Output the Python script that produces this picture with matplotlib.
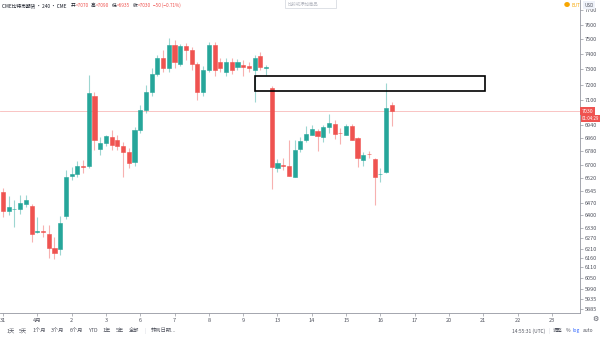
import numpy as np
import matplotlib.pyplot as plt
from matplotlib.patches import Rectangle
from matplotlib.ticker import FixedLocator, FixedFormatter, NullLocator

plt.rcParams['font.family'] = ['Noto Sans CJK SC', 'DejaVu Sans']

# 240-minute CME bitcoin futures candles
opens = [6536, 6426, 6435, 6438, 6467, 6455, 6308, 6312, 6294, 6215,
         6210, 6397, 6632, 6644, 6691, 6691, 7127, 6795, 6832, 6868,
         6850, 6813, 6777, 6716, 6912, 7037, 7152, 7269, 7374, 7308,
         7461, 7335, 7454, 7428, 7335, 7152, 7295, 7461, 7348, 7282,
         7348, 7315, 7328, 7321, 7295, 7387, 7311, 7178, 6679, 6698,
         6691, 6626, 6795, 6850, 6881, 6906, 6868, 6930, 6949, 6895,
         6881, 6937, 6862, 6728, 6766, 6734, 6642, 6655, 7070]
highs = [6560, 6513, 6490, 6519, 6519, 6467, 6391, 6345, 6345, 6277,
         6397, 6667, 6685, 6722, 6728, 7262, 7152, 6868, 6881, 6912,
         6881, 6838, 6801, 6930, 7069, 7197, 7308, 7394, 7428, 7508,
         7495, 7468, 7475, 7448, 7348, 7321, 7481, 7481, 7374, 7374,
         7374, 7368, 7361, 7348, 7394, 7414, 7328, 7191, 6734, 6740,
         6850, 6850, 6868, 6937, 6943, 6918, 6943, 7011, 6974, 6924,
         6949, 6949, 6868, 6777, 6783, 6740, 6679, 7210, 7090]
lows = [6391, 6403, 6334, 6409, 6449, 6249, 6300, 6277, 6159, 6154,
        6176, 6380, 6608, 6626, 6649, 6679, 6789, 6758, 6813, 6789,
        6789, 6626, 6679, 6691, 6893, 7018, 7127, 7256, 7282, 7282,
        7308, 7321, 7361, 7295, 7101, 7127, 7282, 7256, 7282, 7256,
        7269, 7295, 7256, 7282, 7088, 7295, 7262, 6554, 6655, 6667,
        6630, 6624, 6777, 6838, 6879, 6783, 6838, 6893, 6856, 6825,
        6879, 6848, 6685, 6691, 6740, 6461, 6596, 6650, 6935]
closes = [6426, 6449, 6440, 6473, 6490, 6294, 6311, 6308, 6215, 6187,
          6357, 6626, 6644, 6691, 6685, 7146, 6850, 6832, 6875, 6819,
          6813, 6777, 6710, 6912, 7037, 7152, 7269, 7374, 7308, 7461,
          7348, 7454, 7428, 7335, 7152, 7295, 7461, 7295, 7308, 7348,
          7295, 7348, 7315, 7308, 7374, 7315, 7315, 6685, 6710, 6694,
          6632, 6789, 6844, 6887, 6918, 6875, 6930, 6955, 6887, 6893,
          6937, 6850, 6740, 6758, 6764, 6626, 6645, 7050, 7030]

day_pos = [0, 6, 12, 18, 24, 30, 36, 42, 48, 54, 60, 66, 72, 78, 84, 90, 96]
day_labels = ['31', '4月', '2', '3', '6', '7', '8', '9', '13', '14', '15',
              '16', '17', '20', '21', '22', '23']

price_ticks = [7700, 7600, 7500, 7400, 7300, 7200, 7100, 6940, 6860, 6780,
               6700, 6620, 6545, 6470, 6400, 6330, 6270, 6210, 6160, 6110,
               6050, 5990, 5935, 5885]
last_price = 7030
countdown = '01:04:29'

# drawn box
box_x0, box_x1 = 44.05, 84.3
box_lo, box_hi = 7158, 7256

up = '#26a69a'
down = '#ef5350'
axis_col = '#9598a1'
txt_col = '#50535e'
dark = '#131722'

fig = plt.figure(figsize=(6, 3.37), dpi=100)
ax = fig.add_axes([0, 0.0712, 0.9667, 0.9288])

o = np.array(opens)
h = np.array(highs)
l = np.array(lows)
c = np.array(closes)
x = np.arange(len(o))
colors = np.where(c >= o, up, down)

ax.vlines(x, l, h, colors=colors, lw=0.8, alpha=0.45, zorder=2)
lo = np.minimum(o, c)
hi = np.maximum(o, c)
ax.bar(x, hi - lo, bottom=lo, width=0.72, color=colors,
       edgecolor=colors, linewidth=0.4, zorder=3)

ax.axhline(last_price, color=down, lw=0.6, alpha=0.4, zorder=1)

ax.add_patch(Rectangle((box_x0, box_lo), box_x1 - box_x0, box_hi - box_lo,
                       fill=False, edgecolor='black', lw=1.2, zorder=4))

ax.set_yscale('log')
ax.set_ylim(5862, 7770)
ax.set_xlim(-0.52, 100.9)

ax.yaxis.tick_right()
ax.yaxis.set_major_locator(FixedLocator(price_ticks))
ax.yaxis.set_major_formatter(FixedFormatter([str(p) for p in price_ticks]))
ax.yaxis.set_minor_locator(NullLocator())
ax.set_xticks(day_pos, day_labels)
ax.tick_params(axis='both', labelsize=4.0, colors=axis_col, labelcolor=txt_col,
               length=2, width=0.5, pad=1.5)

for s in ['top', 'left']:
    ax.spines[s].set_visible(False)
for s in ['right', 'bottom']:
    ax.spines[s].set_color(axis_col)
    ax.spines[s].set_linewidth(0.6)

# last price tag and bar countdown
ax.annotate(str(last_price), (1.0, last_price), xycoords=('axes fraction', 'data'),
            xytext=(1.2, 0), textcoords='offset points', va='center', ha='left',
            fontsize=3.8, color='white',
            bbox=dict(boxstyle='square,pad=0.25', fc=down, ec='none'))
ax.annotate(countdown, (1.0, last_price), xycoords=('axes fraction', 'data'),
            xytext=(1.0, -5.5), textcoords='offset points', va='center', ha='left',
            fontsize=3.2, color='white',
            bbox=dict(boxstyle='square,pad=0.2', fc=down, ec='none'))

renderer = fig.canvas.get_renderer()


def text_row(parts, x0, y, size):
    # lay out pieces of text one after another, in pixels
    px = x0
    for s, col, gap in parts:
        t = fig.text(px / 600, y, s, fontsize=size, color=col, va='center')
        px = t.get_window_extent(renderer).x1 + gap


# header
text_row([('CME比特币期货 · 240 · CME', dark, 4),
          ('开', dark, 0.3), ('=7070', down, 2.5),
          ('高', dark, 0.3), ('=7090', down, 2.5),
          ('低', dark, 0.3), ('=6935', down, 2.5),
          ('收', dark, 0.3), ('=7030', down, 2.5),
          ('−50 (−0.71%)', down, 0)], 2, 0.983, 3.4)

# search box at the top
fig.patches.append(Rectangle((0.475, 0.976), 0.085, 0.026, transform=fig.transFigure,
                             fill=False, ec='#d1d4dc', lw=0.5))
fig.text(0.48, 0.988, '比较或添加商品', fontsize=3.2, color='#b2b5be', va='center')

fig.text(0.945, 0.985, '●', fontsize=4.5, color='#f7a600', va='center', ha='center')
fig.text(0.952, 0.985, 'EUT', fontsize=3.3, color='#f7a600', va='center')
fig.text(0.982, 0.985, 'USD', fontsize=3.3, color=txt_col, va='center', ha='center',
         bbox=dict(boxstyle='square,pad=0.3', fc='#f0f3fa', ec='none'))

# bottom toolbar
g = 5
text_row([('1天', txt_col, g), ('5天', txt_col, g), ('1个月', txt_col, g),
          ('3个月', txt_col, g), ('6个月', txt_col, g), ('YTD', txt_col, g),
          ('1年', txt_col, g), ('5年', txt_col, g), ('全部', txt_col, g),
          ('|', '#d1d4dc', g), ('转到日期...', txt_col, 0)], 6, 0.018, 3.8)
text_row([('14:55:31 (UTC)', txt_col, 3), ('|', '#d1d4dc', 3), ('调整', txt_col, 3),
          ('%', txt_col, 3), ('log', '#2962ff', 3), ('auto', txt_col, 0)],
         512, 0.018, 3.5)
fig.text(592 / 600, 0.054, '⚙', fontsize=5, color=txt_col, va='center',
         family='DejaVu Sans')

fig.savefig('out.png', dpi=100)
